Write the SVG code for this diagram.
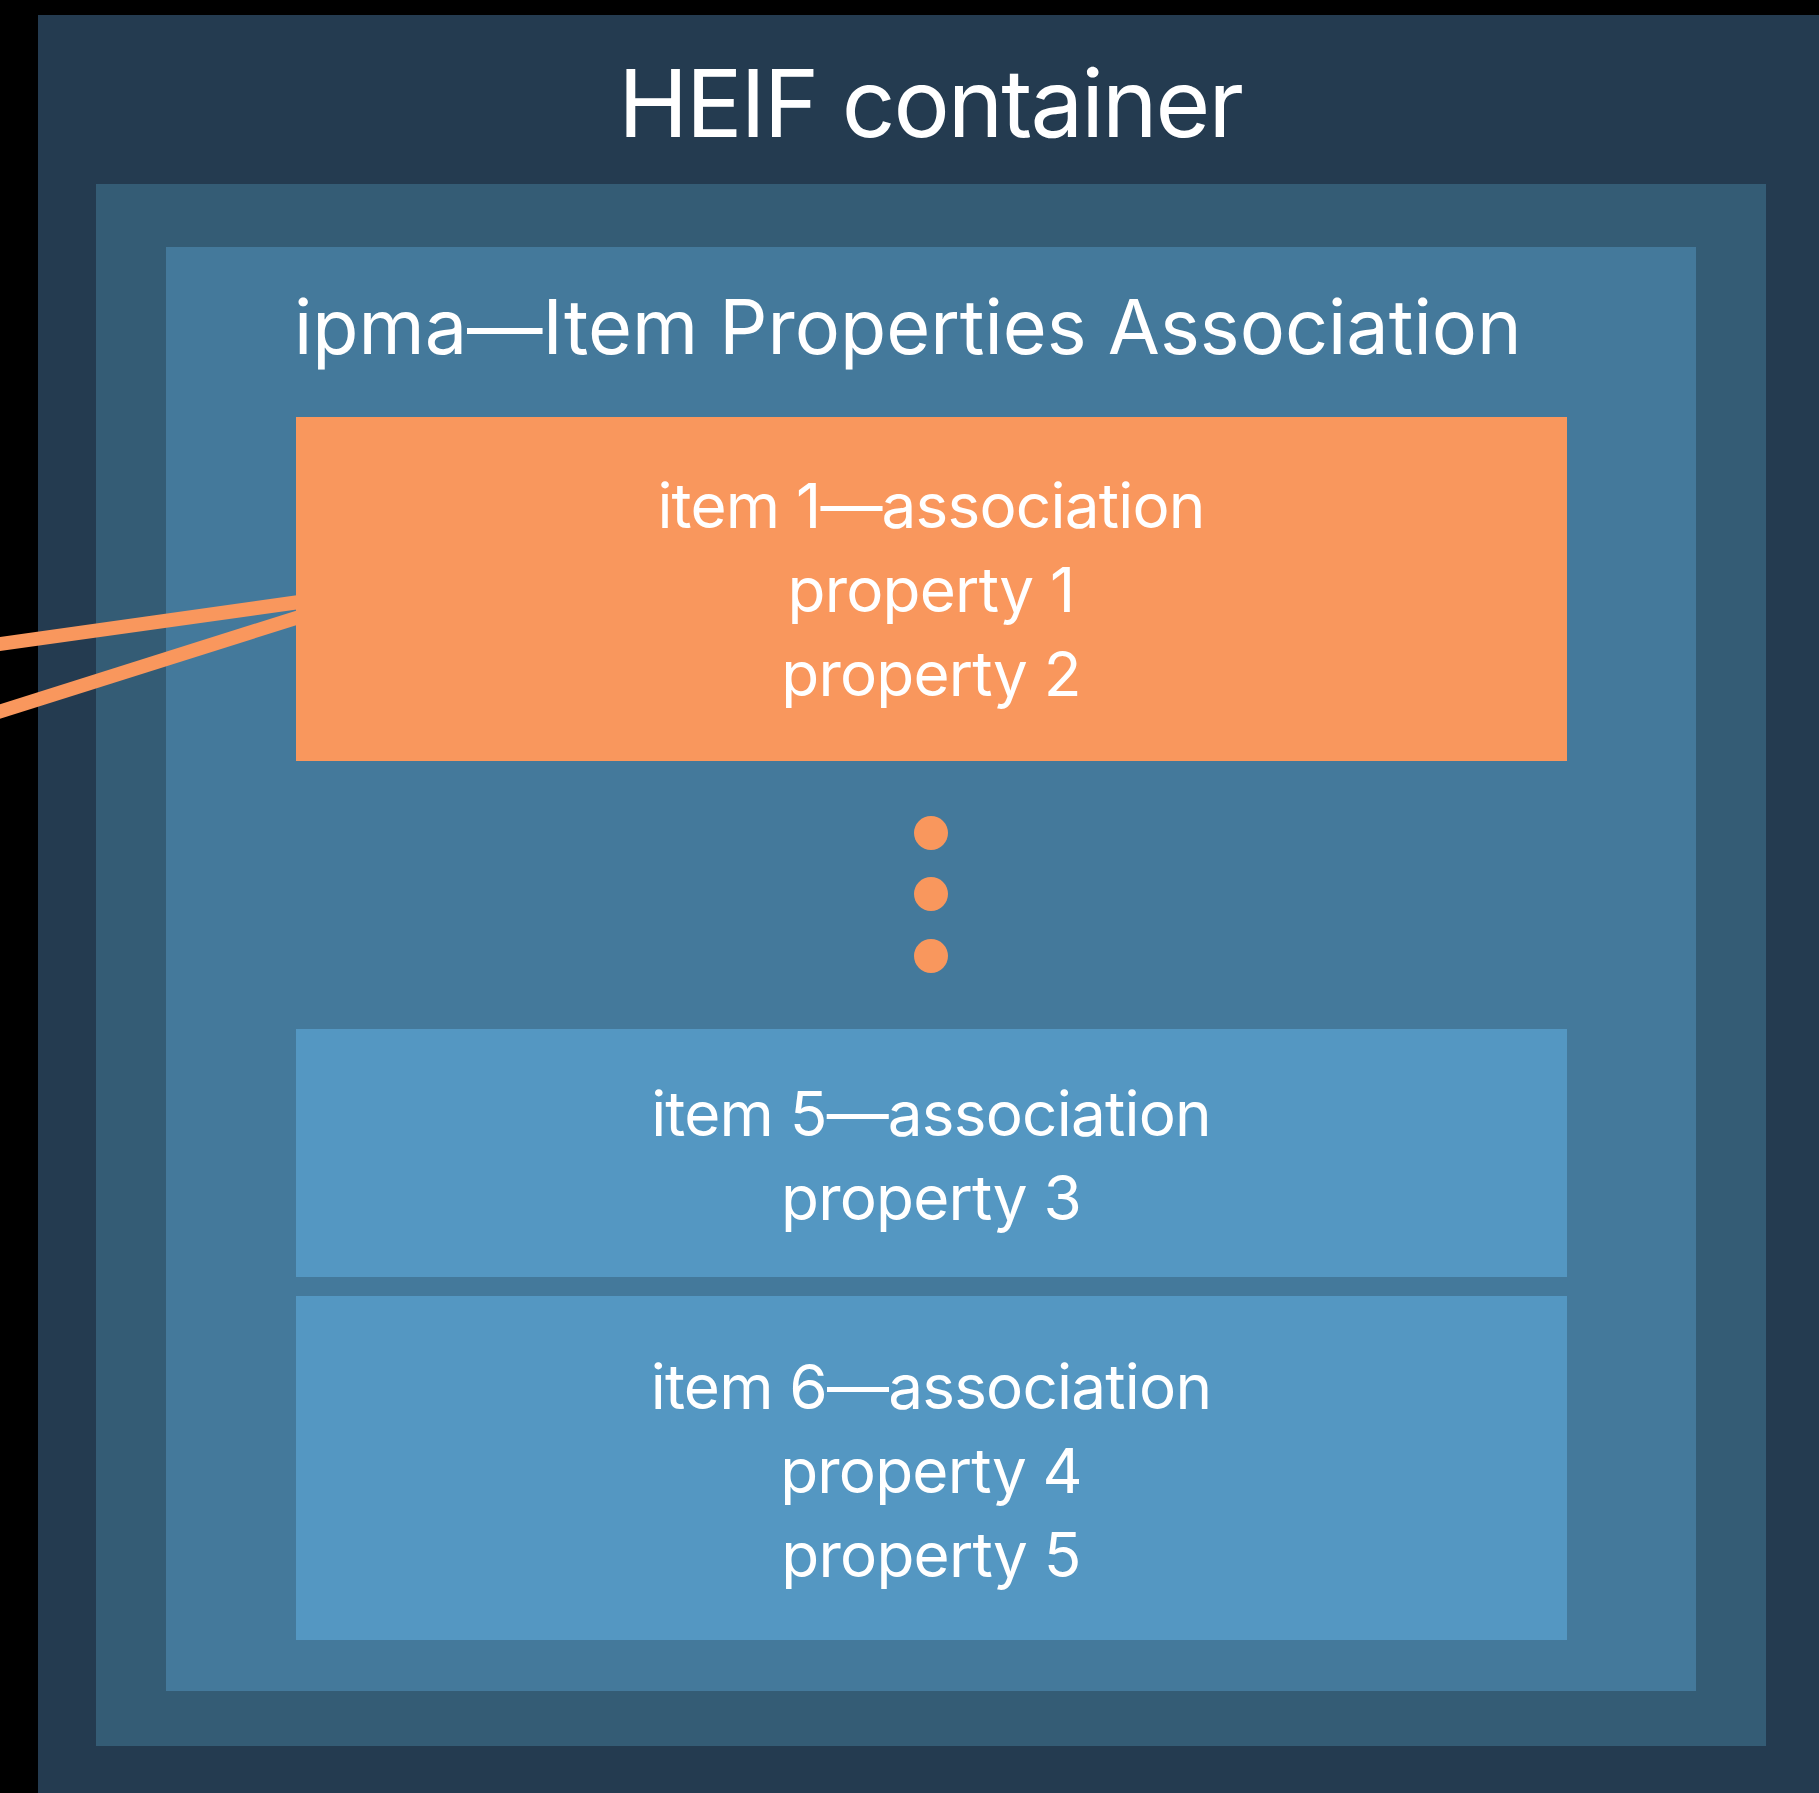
<svg xmlns="http://www.w3.org/2000/svg" width="1819" height="1793" viewBox="0 0 1819 1793">
  <style>
    .txt { font-family: Inter, "Noto Sans", "Liberation Sans", sans-serif; fill: #ffffff; }
    .title { font-size: 94px; letter-spacing: -2px; text-anchor: middle; }
    .heading { font-size: 75.5px; }
    .label { font-size: 62px; letter-spacing: -0.8px; text-anchor: middle; }
    .link { stroke: #F9975D; stroke-width: 14; fill: none; }
  </style>

  <!-- page background -->
  <rect x="0" y="0" width="1819" height="1793" fill="#000000"/>

  <!-- HEIF container -->
  <g id="heif-container">
    <rect x="38" y="15" width="1781" height="1778" fill="#243B50"/>
    <text class="txt title" x="930" y="137">HEIF container</text>
  </g>

  <!-- meta box region -->
  <g id="meta">
    <rect x="96" y="184" width="1670" height="1562" fill="#345C75"/>
  </g>

  <!-- ipma box -->
  <g id="ipma">
    <rect x="166" y="247" width="1530" height="1444" fill="#44799B"/>
    <text class="txt heading" x="294" y="354">ipma—Item Properties Association</text>
  </g>

  <!-- links entering item 1 association from the left -->
  <g id="connectors">
    <line class="link" x1="-20" y1="646.8" x2="310" y2="600.5"/>
    <line class="link" x1="-20" y1="717.8" x2="310" y2="613.6"/>
  </g>

  <g id="item1-association">
    <rect x="296" y="417" width="1271" height="344" fill="#F9975D"/>
    <text class="txt label" x="931" y="528">item 1—association</text>
    <text class="txt label" x="931" y="612">property 1</text>
    <text class="txt label" x="931" y="696">property 2</text>
  </g>

  <!-- ellipsis -->
  <g id="ellipsis" fill="#F9975D">
    <circle cx="931" cy="833" r="17"/>
    <circle cx="931" cy="894" r="17"/>
    <circle cx="931" cy="956" r="17"/>
  </g>

  <g id="item5-association">
    <rect x="296" y="1029" width="1271" height="248" fill="#5497C2"/>
    <text class="txt label" x="931" y="1136">item 5—association</text>
    <text class="txt label" x="931" y="1220">property 3</text>
  </g>

  <g id="item6-association">
    <rect x="296" y="1296" width="1271" height="344" fill="#5497C2"/>
    <text class="txt label" x="931" y="1409">item 6—association</text>
    <text class="txt label" x="931" y="1493">property 4</text>
    <text class="txt label" x="931" y="1577">property 5</text>
  </g>
</svg>
